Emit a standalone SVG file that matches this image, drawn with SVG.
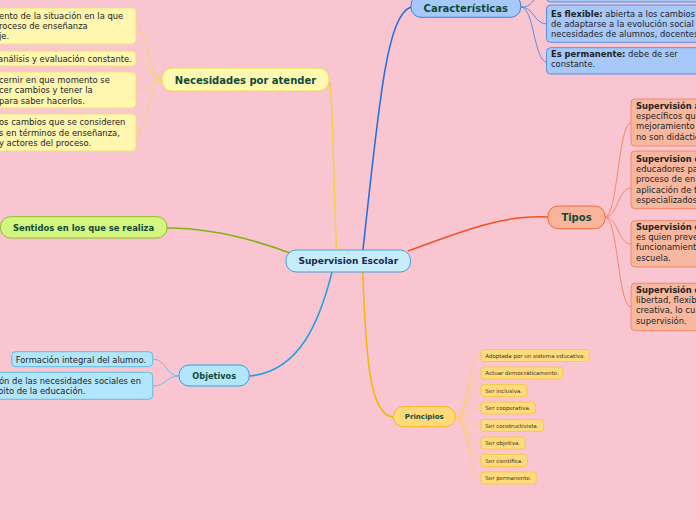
<svg xmlns="http://www.w3.org/2000/svg" width="696" height="520" viewBox="0 0 696 520">
<style>
text{font-family:"DejaVu Sans","Verdana",sans-serif;}
.main{font-weight:bold;fill:#0f4a38;text-anchor:middle;}
.t{font-size:8.4px;fill:#222;}
.b{font-weight:bold;}
.p{font-size:5.5px;fill:#3d3420;}
.c{fill:none;}
</style>
<rect width="696" height="520" fill="#f8c5d1"/>
<g id="connectors">
  <path class="c" d="M336.5,250 C333,170 333,90 329,80" stroke="#f2d33c" stroke-width="1.5"/>
  <path class="c" d="M363,250 C380,90 388,15 411,7" stroke="#1f6fe0" stroke-width="1.5"/>
  <path class="c" d="M408,251 C450,236 500,214 548,217" stroke="#f4511e" stroke-width="1.5"/>
  <path class="c" d="M167,228 C210,228 250,238 290,253" stroke="#86b01a" stroke-width="1.5"/>
  <path class="c" d="M332,272 C320,320 300,372 249,376" stroke="#1ea0e0" stroke-width="1.5"/>
  <path class="c" d="M362.7,272 C366,360 370,415 393,417" stroke="#f5b800" stroke-width="1.5"/>
  <g stroke="#f3d860" stroke-width="1" fill="none">
    <path d="M162,80 C148,80 150,27 136,27"/>
    <path d="M162,80 C148,80 150,59 136,59"/>
    <path d="M162,80 C148,80 150,90 136,90"/>
    <path d="M162,80 C148,80 150,133 136,133"/>
  </g>
  <g stroke="#5b8ee0" stroke-width="1" fill="none">
    <path d="M521,7 C532,7 532,0 540,-6"/>
    <path d="M521,7 C534,7 534,24 547,24"/>
    <path d="M521,7 C534,7 534,62 547,62"/>
  </g>
  <g stroke="#f4876a" stroke-width="1" fill="none">
    <path d="M605,217 C618,217 618,123 631,123"/>
    <path d="M605,217 C618,217 618,188 631,188"/>
    <path d="M605,217 C618,217 618,244 631,244"/>
    <path d="M605,217 C618,217 618,307 631,307"/>
  </g>
  <g stroke="#6cc0ea" stroke-width="1" fill="none">
    <path d="M179,376 C166,376 166,359 153,359"/>
    <path d="M179,376 C166,376 166,386 153,386"/>
  </g>
  <g stroke="#ffcf70" stroke-width="1" fill="none">
    <path d="M455,417 C468,417 468,355.5 481,355.5"/>
    <path d="M455,417 C468,417 468,373 481,373"/>
    <path d="M455,417 C468,417 468,390.5 481,390.5"/>
    <path d="M455,417 C468,417 468,408 481,408"/>
    <path d="M455,417 C468,417 468,425.5 481,425.5"/>
    <path d="M455,417 C468,417 468,443 481,443"/>
    <path d="M455,417 C468,417 468,460.5 481,460.5"/>
    <path d="M455,417 C468,417 468,478 481,478"/>
  </g>
</g>
<g id="center">
  <rect x="286" y="250" width="124.5" height="22" rx="10" fill="#c7ecfc" stroke="#4a9ed8" stroke-width="1"/>
  <text x="348.3" y="264.2" font-size="9" font-weight="bold" fill="#1a2850" text-anchor="middle">Supervision Escolar</text>
</g>
<g id="necesidades">
  <rect x="162" y="68" width="167" height="23" rx="10" fill="#fff9b2" stroke="#f2d84a" stroke-width="1"/>
  <text class="main" x="245.5" y="83.5" font-size="10">Necesidades por atender</text>
</g>
<g id="nec1">
  <rect x="-10" y="8" width="146" height="36" rx="4" fill="#fff6b0" stroke="#f5e07a"/>
  <text class="t"><tspan x="-1" y="18.7">ento de la situación en la que</tspan><tspan x="-1" y="29">roceso de enseñanza</tspan><tspan x="-1" y="39.4">je.</tspan></text>
</g>
<g id="nec2">
  <rect x="-10" y="51" width="146" height="15" rx="4" fill="#fff6b0" stroke="#f5e07a"/>
  <text class="t" x="-2" y="61.8">análisis y evaluación constante.</text>
</g>
<g id="nec3">
  <rect x="-10" y="72" width="146" height="36" rx="4" fill="#fff6b0" stroke="#f5e07a"/>
  <text class="t"><tspan x="-1" y="83">cernir en que momento se</tspan><tspan x="-1" y="93.3">cer cambios y tener la</tspan><tspan x="-1" y="103.6">para saber hacerlos.</tspan></text>
</g>
<g id="nec4">
  <rect x="-10" y="114" width="146" height="37" rx="4" fill="#fff6b0" stroke="#f5e07a"/>
  <text class="t"><tspan x="-1" y="125">os cambios que se consideren</tspan><tspan x="-1" y="135.6">s en términos de enseñanza,</tspan><tspan x="-1" y="146.2">y actores del proceso.</tspan></text>
</g>
<g id="sentidos">
  <rect x="0.5" y="216.7" width="166.5" height="21.3" rx="10" fill="#d4f57e" stroke="#8cc026" stroke-width="1"/>
  <text class="main" x="83.5" y="230.5" font-size="8.4">Sentidos en los que se realiza</text>
</g>
<g id="caracteristicas">
  <rect x="411" y="-5" width="109.7" height="22.3" rx="10" fill="#a6c8fa" stroke="#3b7de0" stroke-width="1"/>
  <text class="main" x="465.8" y="11.5" font-size="10">Características</text>
</g>
<g id="car0">
  <rect x="546.5" y="-30" width="160" height="32" rx="4" fill="#a8c8fa" stroke="#5b8ee0"/>
</g>
<g id="car1">
  <rect x="546.5" y="5" width="160" height="37.3" rx="4" fill="#a8c8fa" stroke="#5b8ee0"/>
  <text class="t"><tspan x="551" y="16.8"><tspan class="b">Es flexible:</tspan> abierta a los cambios</tspan><tspan x="551" y="27">de adaptarse a la evolución social</tspan><tspan x="551" y="37.2">necesidades de alumnos, docentes</tspan></text>
</g>
<g id="car2">
  <rect x="546.5" y="47.7" width="160" height="26.3" rx="4" fill="#a8c8fa" stroke="#5b8ee0"/>
  <text class="t"><tspan x="551" y="57"><tspan class="b">Es permanente:</tspan> debe de ser</tspan><tspan x="551" y="67.4">constante.</tspan></text>
</g>
<g id="tipos">
  <rect x="548" y="206" width="57" height="22.7" rx="10" fill="#f9b59b" stroke="#f26a3b" stroke-width="1"/>
  <text class="main" x="576.5" y="221" font-size="10">Tipos</text>
</g>
<g id="tipo1">
  <rect x="631" y="99" width="80" height="47" rx="4" fill="#f8b8a0" stroke="#f4876a"/>
  <text class="t"><tspan x="636" y="108.5" class="b">Supervisión a</tspan><tspan x="636" y="118.8">específicos que</tspan><tspan x="636" y="129.2">mejoramiento</tspan><tspan x="636" y="139.6">no son didácticos</tspan></text>
</g>
<g id="tipo2">
  <rect x="631" y="151" width="80" height="57.7" rx="4" fill="#f8b8a0" stroke="#f4876a"/>
  <text class="t"><tspan x="636" y="161.7" class="b">Supervision d</tspan><tspan x="636" y="172">educadores pa</tspan><tspan x="636" y="182.4">proceso de en</tspan><tspan x="636" y="192.8">aplicación de t</tspan><tspan x="636" y="203.2">especializados</tspan></text>
</g>
<g id="tipo3">
  <rect x="631" y="220.7" width="80" height="46.3" rx="4" fill="#f8b8a0" stroke="#f4876a"/>
  <text class="t"><tspan x="636" y="229.6" class="b">Supervisión d</tspan><tspan x="636" y="240">es quien preve</tspan><tspan x="636" y="250.4">funcionamiento</tspan><tspan x="636" y="260.8">escuela.</tspan></text>
</g>
<g id="tipo4">
  <rect x="631" y="283.3" width="80" height="47.4" rx="4" fill="#f8b8a0" stroke="#f4876a"/>
  <text class="t"><tspan x="636" y="292.5" class="b">Supervisión d</tspan><tspan x="636" y="302.9">libertad, flexib</tspan><tspan x="636" y="313.3">creativa, lo cu</tspan><tspan x="636" y="323.7">supervisión.</tspan></text>
</g>
<g id="objetivos">
  <rect x="179" y="365" width="70.3" height="21" rx="10" fill="#b3e5fc" stroke="#2aa5e0" stroke-width="1"/>
  <text class="main" x="214.2" y="378.6" font-size="8.2">Objetivos</text>
</g>
<g id="obj1">
  <rect x="11.7" y="351.7" width="141" height="15" rx="4" fill="#b3e5fc" stroke="#5cbde8"/>
  <text class="t" x="15.7" y="362.5">Formación integral del alumno.</text>
</g>
<g id="obj2">
  <rect x="-10" y="372.3" width="162.7" height="27" rx="4" fill="#b3e5fc" stroke="#5cbde8"/>
  <text class="t"><tspan x="-1" y="384">ón de las necesidades sociales en</tspan><tspan x="-2" y="394.4">bito de la educación.</tspan></text>
</g>
<g id="principios">
  <rect x="393.3" y="406.7" width="62" height="20" rx="10" fill="#ffd97a" stroke="#f5ba1a" stroke-width="1"/>
  <text class="main" x="424.3" y="419.2" font-size="7">Principios</text>
</g>
<g id="pr1"><rect x="481" y="349.5" width="108.3" height="12" rx="3" fill="#ffdb80" stroke="#f8c94a"/><text class="p" x="485.3" y="357.6">Adoptada por un sistema educativo.</text></g>
<g id="pr2"><rect x="481" y="367" width="81.7" height="12" rx="3" fill="#ffdb80" stroke="#f8c94a"/><text class="p" x="485.3" y="375.1">Actuar democráticamente.</text></g>
<g id="pr3"><rect x="481" y="384.5" width="45.7" height="12" rx="3" fill="#ffdb80" stroke="#f8c94a"/><text class="p" x="485.3" y="392.6">Ser inclusiva.</text></g>
<g id="pr4"><rect x="481" y="402" width="54.3" height="12" rx="3" fill="#ffdb80" stroke="#f8c94a"/><text class="p" x="485.3" y="410.1">Ser cooperativa.</text></g>
<g id="pr5"><rect x="481" y="419.5" width="62.3" height="12" rx="3" fill="#ffdb80" stroke="#f8c94a"/><text class="p" x="485.3" y="427.6">Ser constructivista.</text></g>
<g id="pr6"><rect x="481" y="437" width="44.3" height="12" rx="3" fill="#ffdb80" stroke="#f8c94a"/><text class="p" x="485.3" y="445.1">Ser objetiva.</text></g>
<g id="pr7"><rect x="481" y="454.5" width="46.3" height="12" rx="3" fill="#ffdb80" stroke="#f8c94a"/><text class="p" x="485.3" y="462.6">Ser científica.</text></g>
<g id="pr8"><rect x="481" y="472" width="55.3" height="12" rx="3" fill="#ffdb80" stroke="#f8c94a"/><text class="p" x="485.3" y="480.1">Ser permanente.</text></g>
</svg>
